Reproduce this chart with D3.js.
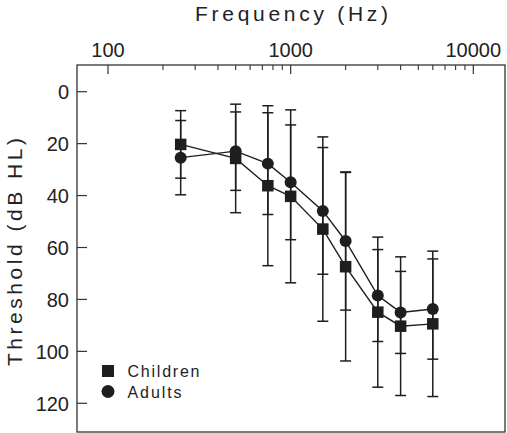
<!DOCTYPE html>
<html><head><meta charset="utf-8">
<script src="https://cdn.jsdelivr.net/npm/d3@7"></script>
<style>body{margin:0;background:#fff}svg{display:block}text{font-family:"Liberation Sans",Arial,sans-serif;fill:#222}</style>
</head><body>
<script>
const freqs = [250, 500, 750, 1000, 1500, 2000, 3000, 4000, 6000];
const children = [20.3, 25.7, 36.2, 40.3, 52.9, 67.4, 84.9, 90.3, 89.4];
const childrenSD = [13.0, 20.9, 30.8, 33.3, 35.5, 36.3, 28.9, 26.7, 28.0];
const adults = [25.4, 22.9, 27.7, 34.9, 45.9, 57.5, 78.5, 85.0, 83.7];
const adultsSD = [14.3, 15.1, 19.6, 22.1, 24.4, 26.6, 17.7, 15.8, 19.3];
const xMajor = [100, 1000, 10000];
const yTicks = [0, 20, 40, 60, 80, 100, 120];
const seriesNames = ["Children", "Adults"];

const W = 507, H = 433;
const frame = {l: 77, r: 505, t: 65, b: 432};
const svg = d3.select("body").append("svg").attr("width", W).attr("height", H);
const x = d3.scaleLog().domain([100, 10000]).range([108, 473.3]);
const y = d3.scaleLinear().domain([0, 120]).range([91.7, 403.3]);
const ink = "#1e1e1e";

svg.append("rect").attr("x", frame.l).attr("y", frame.t)
  .attr("width", frame.r - frame.l).attr("height", frame.b - frame.t)
  .attr("fill", "none").attr("stroke", "#333").attr("stroke-width", 1.3);

const minor = [];
for (let d = 100; d < 10000; d *= 10) for (let k = 2; k <= 9; k++) minor.push(d * k);
svg.selectAll(".mn").data(minor).enter().append("line")
  .attr("x1", d => x(d)).attr("x2", d => x(d)).attr("y1", frame.t).attr("y2", frame.t + 5)
  .attr("stroke", "#333").attr("stroke-width", 1.1);
svg.selectAll(".mj").data(xMajor).enter().append("line")
  .attr("x1", d => x(d)).attr("x2", d => x(d)).attr("y1", frame.t).attr("y2", frame.t + 9)
  .attr("stroke", "#333").attr("stroke-width", 1.2);
svg.selectAll(".xl").data(xMajor).enter().append("text")
  .attr("x", d => x(d)).attr("y", 57).attr("text-anchor", "middle")
  .attr("font-size", 20).text(d => d);

svg.selectAll(".yt").data(yTicks).enter().append("line")
  .attr("x1", frame.l).attr("x2", frame.l + 10).attr("y1", d => y(d)).attr("y2", d => y(d))
  .attr("stroke", "#333").attr("stroke-width", 1.2);
svg.selectAll(".yl").data(yTicks).enter().append("text")
  .attr("x", 69).attr("y", d => y(d) + 7.5).attr("text-anchor", "end")
  .attr("font-size", 20).text(d => d);

svg.append("text").attr("x", 291.5).attr("y", 21).attr("text-anchor", "middle")
  .attr("font-size", 21).attr("textLength", 193).attr("lengthAdjust", "spacing")
  .text("Frequency (Hz)");
svg.append("text").attr("transform", "translate(22,252) rotate(-90)")
  .attr("text-anchor", "middle").attr("font-size", 21)
  .attr("textLength", 228).attr("lengthAdjust", "spacing")
  .text("Threshold (dB HL)");

const series = [
  {name: seriesNames[0], m: children, sd: childrenSD, shape: "square"},
  {name: seriesNames[1], m: adults, sd: adultsSD, shape: "circle"}
];
const cap = 5.5;
series.forEach(s => {
  const g = svg.append("g").attr("stroke", ink).attr("stroke-width", 1.5);
  freqs.forEach((f, i) => {
    const cx = x(f), y1 = y(s.m[i] - s.sd[i]), y2 = y(s.m[i] + s.sd[i]);
    g.append("line").attr("x1", cx).attr("x2", cx).attr("y1", y1).attr("y2", y2);
    g.append("line").attr("x1", cx - cap).attr("x2", cx + cap).attr("y1", y1).attr("y2", y1);
    g.append("line").attr("x1", cx - cap).attr("x2", cx + cap).attr("y1", y2).attr("y2", y2);
  });
});
const line = d3.line().x(d => x(d[0])).y(d => y(d[1]));
series.forEach(s => {
  svg.append("path").attr("d", line(freqs.map((f, i) => [f, s.m[i]])))
    .attr("fill", "none").attr("stroke", ink).attr("stroke-width", 1.4);
});
const sq = 11.5, rad = 6;
series.forEach(s => {
  freqs.forEach((f, i) => {
    if (s.shape === "square")
      svg.append("rect").attr("x", x(f) - sq / 2).attr("y", y(s.m[i]) - sq / 2)
        .attr("width", sq).attr("height", sq).attr("fill", ink);
    else
      svg.append("circle").attr("cx", x(f)).attr("cy", y(s.m[i])).attr("r", rad).attr("fill", ink);
  });
});

const lg = svg.append("g");
lg.append("rect").attr("x", 102).attr("y", 365).attr("width", 12).attr("height", 12).attr("fill", ink);
lg.append("circle").attr("cx", 108).attr("cy", 391.5).attr("r", 6.5).attr("fill", ink);
lg.append("text").attr("x", 127.5).attr("y", 377).attr("font-size", 16)
  .attr("textLength", 72).attr("lengthAdjust", "spacing").text(seriesNames[0]);
lg.append("text").attr("x", 127.5).attr("y", 397.5).attr("font-size", 16)
  .attr("textLength", 54).attr("lengthAdjust", "spacing").text(seriesNames[1]);
</script>
</body></html>
